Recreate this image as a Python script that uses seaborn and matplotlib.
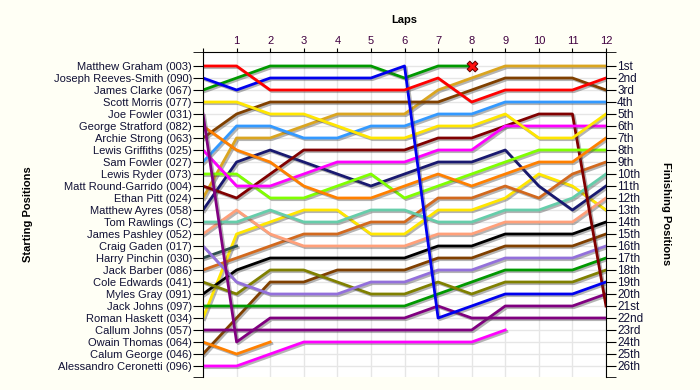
import matplotlib
matplotlib.use('Agg')
import matplotlib.pyplot as plt
import matplotlib.patheffects as pe
import pandas as pd
import seaborn as sns

plt.rcParams['font.family'] = ['Liberation Sans', 'DejaVu Sans']

# Data: starting grid order, one position per lap (lap 0 = grid), None = retired
laps = list(range(0, 13))
lap_labels = [''] + [str(i) for i in range(1, 13)]

drivers = ['Matthew Graham (003)', 'Joseph Reeves-Smith (090)', 'James Clarke (067)',
           'Scott Morris (077)', 'Joe Fowler (031)', 'George Stratford (082)',
           'Archie Strong (063)', 'Lewis Griffiths (025)', 'Sam Fowler (027)',
           'Lewis Ryder (073)', 'Matt Round-Garrido (004)', 'Ethan Pitt (024)',
           'Matthew Ayres (058)', 'Tom Rawlings (C)', 'James Pashley (052)',
           'Craig Gaden (017)', 'Harry Pinchin (030)', 'Jack Barber (086)',
           'Cole Edwards (041)', 'Myles Gray (091)', 'Jack Johns (097)',
           'Roman Haskett (034)', 'Callum Johns (057)', 'Owain Thomas (064)',
           'Calum George (046)', 'Alessandro Ceronetti (096)']

colors = ['#FF0000', '#0000EE', '#009900', '#FFE600', '#800080', '#FF8000',
          '#804000', '#FF00FF', '#3399FF', '#80FF00', '#800000', '#DAA520',
          '#191970', '#66CDAA', '#FFA07A', '#9370DB', '#2F4F4F', '#D2691E',
          '#808000', '#000000', '#009900', '#FFE600', '#800080', '#FF8000',
          '#804000', '#FF00FF']

positions = [
    [1, 1, 3, 3, 3, 3, 3, 2, 4, 3, 3, 3, 2],
    [2, 3, 2, 2, 2, 2, 1, 22, 21, 20, 20, 20, 19],
    [3, 2, 1, 1, 1, 1, 2, 1, 1, None, None, None, None],
    [4, 4, 5, 5, 6, 7, 7, 6, 6, 5, 7, 7, 5],
    [5, 24, 22, 22, 22, 22, 22, 21, 22, 22, 22, 22, 22],
    [6, 8, 9, 11, 12, 12, 11, 10, 11, 10, 9, 9, 7],
    [7, 5, 4, 4, 4, 4, 4, 4, 3, 2, 2, 2, 3],
    [8, 11, 11, 10, 9, 9, 9, 8, 8, 6, 6, 6, 6],
    [9, 6, 6, 7, 7, 6, 6, 5, 5, 4, 4, 4, 4],
    [10, 10, 12, 12, 11, 10, 12, 11, 10, 9, 8, 8, 8],
    [11, 12, 10, 8, 8, 8, 8, 7, 7, 6, 5, 5, 21],
    [12, 7, 7, 6, 5, 5, 5, 3, 2, 1, 1, 1, 1],
    [13, 9, 8, 9, 10, 11, 10, 9, 9, 8, 11, 13, 11],
    [14, 14, 13, 14, 14, 13, 13, 14, 14, 13, 13, 12, 10],
    [15, 13, 15, 16, 16, 16, 16, 15, 15, 14, 14, 14, 12],
    [16, 19, 20, 20, 20, 19, 19, 18, 18, 17, 17, 17, 16],
    [17, 16, None, None, None, None, None, None, None, None, None, None, None],
    [18, 17, 16, 15, 15, 14, 14, 12, 12, 11, 12, 10, 9],
    [19, 20, 18, 18, 19, 20, 20, 19, 20, 19, 19, 19, 18],
    [20, 18, 17, 17, 17, 17, 17, 16, 16, 15, 15, 15, 14],
    [21, 21, 21, 21, 21, 21, 21, 20, 19, 18, 18, 18, 17],
    [22, 15, 14, 13, 13, 15, 15, 13, 13, 12, 10, 11, 13],
    [23, 23, 23, 23, 23, 23, 23, 23, 23, 21, 21, 21, 20],
    [24, 25, 24, None, None, None, None, None, None, None, None, None, None],
    [25, 22, 19, 19, 18, 18, 18, 17, 17, 16, 16, 16, 15],
    [26, 26, 25, 24, 24, 24, 24, 24, 24, 23, None, None, None],
]

crashed = ['James Clarke (067)']

finish_labels = ['1st', '2nd', '3rd'] + [f'{i}th' for i in range(4, 21)] + \
                ['21st', '22nd', '23rd', '24th', '25th', '26th']

# Long table for seaborn
rows = []
for name, pos in zip(drivers, positions):
    for lap, p in zip(laps, pos):
        if p is not None:
            rows.append({'driver': name, 'lap': lap, 'pos': p})
df = pd.DataFrame(rows)

fig = plt.figure(figsize=(7, 3.9), dpi=100, facecolor='#FFFFF5')
ax = fig.add_axes([203 / 700, 13 / 390, 403 / 700, 325 / 390])
ax.set_facecolor('white')

sns.lineplot(data=df, x='lap', y='pos', hue='driver', hue_order=drivers[::-1],
             palette=dict(zip(drivers, colors)), estimator=None, legend=False,
             linewidth=2, ax=ax)

for line in ax.lines:
    line.set_path_effects([pe.SimpleLineShadow(offset=(1.2, -1.2), shadow_color='#444444', alpha=0.4),
                           pe.Normal()])

# crash marker at last lap run
for name in crashed:
    d = df[df['driver'] == name].iloc[-1]
    ax.scatter(d['lap'], d['pos'], marker='X', s=60, color='#FF1010',
               edgecolor='#600000', linewidth=0.7, zorder=10)

y_top, y_bot = 1 - 14 / 12, 26 + 11 / 12
ax.set_xlim(0, 12)
ax.set_ylim(y_bot, y_top)

ax.xaxis.tick_top()
ax.set_xticks(laps)
ax.set_xticklabels(lap_labels, color='#400040', fontsize=8)
ax.tick_params(axis='x', length=3, pad=1)
ax.set_yticks(range(1, 27))
ax.set_yticklabels(drivers, color='#101035', fontsize=8)
ax.set_yticks([y_top, y_bot], minor=True)
ax.tick_params(axis='y', which='both', length=7, pad=1)
ax.grid(True, color='#E6E6E6', linewidth=1)
ax.set_axisbelow(True)
ax.set_xlabel('')
ax.set_ylabel('')
ax.spines['bottom'].set_visible(False)
ax.spines['right'].set_visible(False)

ax2 = ax.twinx()
ax2.set_ylim(y_bot, y_top)
ax2.set_yticks(range(1, 27))
ax2.set_yticklabels(finish_labels, color='#101035', fontsize=8.5)
ax2.set_yticks([y_top, y_bot], minor=True)
ax2.tick_params(axis='y', which='both', length=7, pad=1)
ax2.spines['bottom'].set_visible(False)
ax2.spines['top'].set_visible(False)
ax2.spines['left'].set_visible(False)

fig.text(404 / 700, 1 - 20 / 390, 'Laps', ha='center', va='center', fontsize=8, fontweight='bold')
fig.text(28 / 700, 1 - 214 / 390, 'Starting Positions', ha='center', va='center',
         rotation=90, fontsize=8, fontweight='bold')
fig.text(666 / 700, 1 - 214 / 390, 'Finishing Positions', ha='center', va='center',
         rotation=270, fontsize=8, fontweight='bold')

fig.savefig('out.png', dpi=100, facecolor=fig.get_facecolor())
